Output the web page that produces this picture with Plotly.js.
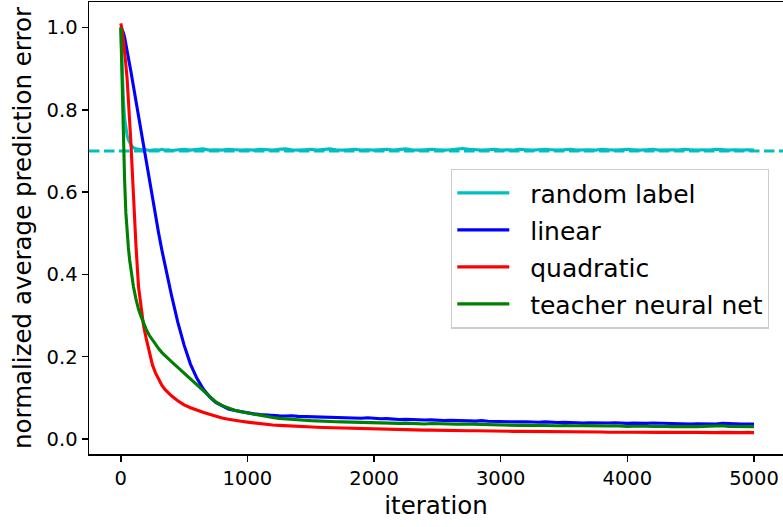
<!DOCTYPE html>
<html>
<head>
<meta charset="utf-8">
<script src="https://cdn.plot.ly/plotly-3.0.1.min.js"></script>
<style>html,body{margin:0;padding:0;background:#fff;}#chart{width:783px;height:527px;}</style>
</head>
<body>
<div id="chart"></div>
<script>
const iterations = [0,10,20,30,40,50,60,70,80,90,100,
  120,140,160,180,200,
  225,250,275,300,325,350,375,400,
  450,500,550,600,650,700,750,800,850,900,950,1000,
  1050,1100,1150,1200,1250,1300,1350,1400,1450,1500,
  1550,1600,1650,1700,1750,1800,1850,1900,1950,2000,
  2050,2100,2150,2200,2250,2300,2350,2400,2450,2500,
  2550,2600,2650,2700,2750,2800,2850,2900,2950,3000,
  3050,3100,3150,3200,3250,3300,3350,3400,3450,3500,
  3550,3600,3650,3700,3750,3800,3850,3900,3950,4000,
  4050,4100,4150,4200,4250,4300,4350,4400,4450,4500,
  4550,4600,4650,4700,4750,4800,4850,4900,4950,5000];

const randomLabel = [1.0,0.90,0.83,0.78,0.752,0.737,0.727,0.72,0.715,0.711,0.708,
  0.705,0.704,0.703,0.702,0.703,
  0.701,0.702,0.703,0.702,0.704,0.702,0.703,0.701,
  0.703,0.704,0.702,0.703,0.705,0.702,0.703,0.702,0.704,0.703,0.702,0.703,
  0.702,0.704,0.703,0.702,0.704,0.705,0.703,0.702,0.703,0.704,
  0.702,0.703,0.705,0.703,0.702,0.703,0.704,0.702,0.703,0.702,
  0.703,0.704,0.702,0.703,0.705,0.703,0.702,0.703,0.704,0.703,
  0.702,0.703,0.704,0.706,0.704,0.703,0.702,0.703,0.704,0.702,
  0.703,0.702,0.704,0.703,0.702,0.703,0.704,0.703,0.702,0.703,
  0.704,0.702,0.703,0.703,0.702,0.704,0.703,0.702,0.703,0.704,
  0.703,0.702,0.703,0.704,0.702,0.703,0.703,0.702,0.704,0.703,
  0.702,0.703,0.702,0.704,0.703,0.702,0.703,0.702,0.703,0.702];

const linear = [1.0,0.995,0.988,0.976,0.961,0.945,0.928,0.911,0.893,0.875,0.857,
  0.82,0.783,0.745,0.708,0.672,
  0.628,0.584,0.54,0.498,0.458,0.42,0.384,0.35,
  0.284,0.228,0.182,0.148,0.122,0.103,0.089,0.08,0.073,0.069,0.066,0.063,
  0.061,0.0595,0.058,0.0575,0.0565,0.056,0.0565,0.055,0.0545,0.0545,
  0.054,0.053,0.0535,0.052,0.0525,0.0515,0.051,0.0505,0.0515,0.0495,
  0.049,0.0495,0.048,0.0475,0.048,0.047,0.0465,0.046,0.0465,0.0455,
  0.045,0.0455,0.0445,0.045,0.044,0.0435,0.0445,0.043,0.0425,0.043,
  0.042,0.0425,0.0415,0.042,0.041,0.0405,0.0415,0.0405,0.04,0.0405,
  0.0395,0.04,0.039,0.0395,0.039,0.0385,0.039,0.0395,0.0385,0.038,
  0.0385,0.0375,0.038,0.039,0.0385,0.0375,0.037,0.0375,0.037,0.0365,
  0.037,0.0365,0.036,0.0365,0.038,0.037,0.0365,0.036,0.0365,0.036];

const quadratic = [1.01,0.995,0.97,0.945,0.91,0.875,0.83,0.78,0.72,0.655,0.59,
  0.47,0.37,0.315,0.275,0.245,
  0.21,0.18,0.16,0.143,0.13,0.12,0.112,0.105,
  0.093,0.083,0.076,0.07,0.065,0.06,0.055,0.051,0.048,0.045,0.043,0.041,
  0.039,0.037,0.0355,0.034,0.033,0.032,0.031,0.030,0.0295,0.029,
  0.0285,0.028,0.0275,0.027,0.0265,0.026,0.0255,0.025,0.0245,0.024,
  0.024,0.0235,0.023,0.0225,0.0225,0.022,0.022,0.0215,0.0215,0.021,
  0.021,0.0205,0.0205,0.020,0.020,0.020,0.0195,0.0195,0.019,0.019,
  0.019,0.0185,0.0185,0.0185,0.018,0.018,0.018,0.0175,0.018,0.0175,
  0.0175,0.017,0.0175,0.017,0.017,0.017,0.0165,0.017,0.0165,0.0165,
  0.0165,0.016,0.0165,0.016,0.016,0.0165,0.016,0.016,0.0155,0.016,
  0.016,0.0155,0.016,0.0155,0.016,0.0155,0.016,0.0155,0.016,0.0155];

const teacher = [1.0,0.85,0.73,0.63,0.55,0.50,0.465,0.435,0.41,0.39,0.37,
  0.34,0.315,0.298,0.282,0.267,
  0.252,0.24,0.229,0.219,0.21,0.202,0.195,0.188,
  0.174,0.16,0.146,0.131,0.116,0.102,0.09,0.081,0.075,0.07,0.066,0.063,
  0.060,0.057,0.0545,0.052,0.050,0.0485,0.0475,0.046,0.0455,0.0445,
  0.0435,0.043,0.0425,0.042,0.0415,0.041,0.0405,0.0405,0.040,0.0395,
  0.039,0.0395,0.0385,0.038,0.0385,0.0375,0.037,0.0365,0.0375,0.037,
  0.036,0.0355,0.036,0.0365,0.036,0.0355,0.035,0.0345,0.035,0.034,
  0.0345,0.0335,0.033,0.0335,0.033,0.0325,0.033,0.0325,0.032,0.0325,
  0.0315,0.032,0.0325,0.032,0.0315,0.031,0.0315,0.032,0.031,0.0305,
  0.031,0.0315,0.031,0.0305,0.031,0.0305,0.030,0.0305,0.031,0.0305,
  0.030,0.0305,0.0315,0.031,0.032,0.0305,0.030,0.0305,0.030,0.030];

const seriesNames = ['random label','linear','quadratic','teacher neural net'];
const seriesColors = ['#00bfbf','#0000ff','#ff0000','#008000'];
const seriesValues = [randomLabel, linear, quadratic, teacher];
const baselineLevel = 0.7;
const xTicks = [0,1000,2000,3000,4000,5000];
const yTicks = [0,0.2,0.4,0.6,0.8,1.0];
const yTickText = ['0.0','0.2','0.4','0.6','0.8','1.0'];

const FONT = 'DejaVu Sans, sans-serif';
const NB = '\u00a0\u00a0';

const traces = seriesNames.map((name, i) => ({
  type: 'scatter', mode: 'lines', name: NB + name,
  x: iterations, y: seriesValues[i],
  line: {color: seriesColors[i], width: 3.1},
  legendgroup: 'g' + i
}));

const layout = {
  width: 783, height: 527,
  margin: {l: 89, r: 0, t: 2, b: 73, pad: 0},
  paper_bgcolor: '#ffffff', plot_bgcolor: '#ffffff',
  font: {family: FONT, color: '#000000'},
  showlegend: true,
  legend: {
    x: 0.5216, y: 0.631, xanchor: 'left', yanchor: 'top',
    bgcolor: 'rgba(255,255,255,0.8)', bordercolor: '#cccccc', borderwidth: 1.3,
    font: {family: FONT, size: 25, color: '#000000'},
    itemwidth: 52, tracegroupgap: 1.5
  },
  xaxis: {
    range: [-251, 5229], tickvals: xTicks, ticktext: xTicks.map(String),
    ticks: 'outside', ticklen: 6, tickwidth: 1.5, tickcolor: '#000',
    showline: true, linecolor: '#000', linewidth: 1.5, mirror: true,
    showgrid: false, zeroline: false,
    tickfont: {family: FONT, size: 19.5, color: '#000'},
    title: {text: 'iteration', font: {family: FONT, size: 24.5, color: '#000'}, standoff: 8},
    automargin: false
  },
  yaxis: {
    range: [-0.0365, 1.062], tickvals: yTicks, ticktext: yTickText,
    ticks: 'outside', ticklen: 6, tickwidth: 1.5, tickcolor: '#000',
    showline: true, linecolor: '#000', linewidth: 1.5,
    showgrid: false, zeroline: false,
    tickfont: {family: FONT, size: 19.5, color: '#000'},
    title: {text: 'normalized average prediction error', font: {family: FONT, size: 24.5, color: '#000'}, standoff: 8},
    automargin: false
  },
  shapes: [{
    type: 'line', xref: 'paper', x0: 0, x1: 1, yref: 'y', y0: baselineLevel, y1: baselineLevel,
    line: {color: '#00bfbf', width: 3, dash: '10.5px,4.5px'}, layer: 'below'
  }]
};

Plotly.newPlot('chart', traces, layout, {displayModeBar: false, staticPlot: true});
</script>
</body>
</html>
